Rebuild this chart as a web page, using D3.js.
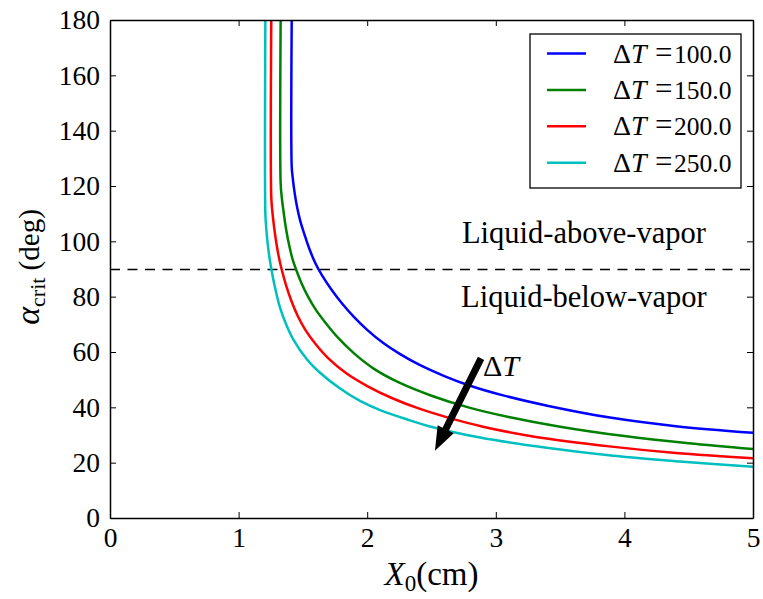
<!DOCTYPE html>
<html lang="en">
	<head>
		<meta charset="utf-8">
		<title>Critical angle vs X0</title>
		<script type="text/javascript" src="https://d3js.org/d3.v7.min.js"></script>
		<style type="text/css">
			body {
				margin: 0;
				background: white;
			}
			text {
				font-family: "Liberation Serif", "DejaVu Serif", serif;
				fill: black;
			}
		</style>
	</head>
	<body>
		<script type="text/javascript">

			//Chart size
			var w = 763;
			var h = 599;
			var margin = { top: 20, right: 10, bottom: 81, left: 110 };
			var pw = w - margin.left - margin.right;
			var ph = h - margin.top - margin.bottom;

			//Data: X0 (cm) and alpha_crit (deg) for each delta T
			var deltaT = [100.0, 150.0, 200.0, 250.0];
			var lineColors = ["#0000ff", "#008000", "#ff0000", "#00bfbf"];

			var x100 = [1.413, 1.413, 1.42, 1.435, 1.455, 1.48, 1.51, 1.55, 1.6, 1.65, 1.72, 1.8, 1.9, 2.0, 2.12, 2.25, 2.4, 2.6, 2.8, 3.05, 3.4, 3.9, 4.4, 5.0];
			var y100 = [180, 127, 123.3, 117.8, 112.3, 107.3, 102.8, 97.3, 91.8, 87.6, 82.7, 77.8, 72.5, 68, 63.4, 59.4, 55.5, 51.3, 47.8, 44.4, 40.6, 36.2, 33.2, 30.8];

			var x150 = [1.327, 1.327, 1.335, 1.35, 1.37, 1.395, 1.42, 1.452, 1.49, 1.54, 1.6, 1.68, 1.78, 1.9, 2.05, 2.25, 2.5, 2.8, 3.1, 3.5, 4.0, 4.5, 5.0];
			var y150 = [180, 121, 116.2, 110.6, 104.2, 98.2, 93.5, 89.2, 84.8, 80, 75.3, 70.3, 64.8, 59.4, 54, 48.9, 44.2, 39.8, 36.5, 33, 29.6, 27, 24.9];

			var x200 = [1.254, 1.254, 1.262, 1.275, 1.29, 1.31, 1.335, 1.37, 1.41, 1.46, 1.52, 1.6, 1.7, 1.84, 2.0, 2.2, 2.4, 2.65, 2.9, 3.3, 3.9, 4.4, 5.0];
			var y200 = [180, 116, 111, 105.5, 100.5, 95, 89.8, 84, 78.5, 73, 67.9, 62.8, 57.6, 52.2, 47.7, 43.2, 39.6, 36, 33, 29.4, 25.8, 23.5, 21.6];

			var x250 = [1.208, 1.208, 1.213, 1.22, 1.23, 1.243, 1.257, 1.28, 1.322, 1.374, 1.426, 1.529, 1.633, 1.789, 1.944, 2.10, 2.333, 2.488, 2.877, 3.396, 3.914, 4.43, 5.0];
			var y250 = [180, 110, 106, 102, 97.6, 93.2, 89.4, 84, 76, 69.5, 64.5, 57.5, 52.5, 46.8, 42.3, 39.0, 35.3, 33.1, 29.1, 25.4, 22.5, 20.4, 18.5];

			//Tick values
			var xTicks = [0, 1, 2, 3, 4, 5];
			var yTicks = [0, 20, 40, 60, 80, 100, 120, 140, 160, 180];

			//Annotations
			var boundaryAngle = 90;
			var arrowFrom = [2.885, 57.7];
			var arrowTo = [2.527, 24.3];

			var seriesX = [x100, x150, x200, x250];
			var seriesY = [y100, y150, y200, y250];
			var series = deltaT.map(function(t, i) {
				return {
					dt: t,
					color: lineColors[i],
					points: seriesX[i].map(function(v, j) { return [v, seriesY[i][j]]; })
				};
			});

			//Scales
			var xScale = d3.scaleLinear().domain([0, 5]).range([0, pw]);
			var yScale = d3.scaleLinear().domain([0, 180]).range([ph, 0]);

			var svg = d3.select("body")
						.append("svg")
						.attr("width", w)
						.attr("height", h);

			var g = svg.append("g")
					   .attr("transform", "translate(" + margin.left + "," + margin.top + ")");

			svg.append("defs").append("clipPath")
			   .attr("id", "plotclip")
			   .append("rect")
			   .attr("width", pw)
			   .attr("height", ph);

			//Dashed boundary at 90 deg
			g.append("line")
			 .attr("x1", 0)
			 .attr("x2", pw)
			 .attr("y1", yScale(boundaryAngle) + 0.5)
			 .attr("y2", yScale(boundaryAngle) + 0.5)
			 .attr("stroke", "black")
			 .attr("stroke-width", 1.4)
			 .attr("stroke-dasharray", "10,7.5");

			//Curves
			var line = d3.line()
						 .x(function(d) { return xScale(d[0]); })
						 .y(function(d) { return yScale(d[1]); })
						 .curve(d3.curveCatmullRom.alpha(0.5));

			g.append("g")
			 .attr("clip-path", "url(#plotclip)")
			 .selectAll("path")
			 .data(series)
			 .enter()
			 .append("path")
			 .attr("d", function(d) { return line(d.points); })
			 .attr("fill", "none")
			 .attr("stroke", function(d) { return d.color; })
			 .attr("stroke-width", 2.5);

			//Region labels
			g.append("text")
			 .attr("x", xScale(3.685))
			 .attr("y", yScale(boundaryAngle) - 26)
			 .attr("text-anchor", "middle")
			 .attr("font-size", "30.5px")
			 .text("Liquid-above-vapor");

			g.append("text")
			 .attr("x", xScale(3.685))
			 .attr("y", yScale(boundaryAngle) + 38)
			 .attr("text-anchor", "middle")
			 .attr("font-size", "30.5px")
			 .text("Liquid-below-vapor");

			//Arrow showing increasing delta T
			var ax0 = xScale(arrowFrom[0]), ay0 = yScale(arrowFrom[1]);
			var ax1 = xScale(arrowTo[0]), ay1 = yScale(arrowTo[1]);
			var len = Math.sqrt((ax1 - ax0) * (ax1 - ax0) + (ay1 - ay0) * (ay1 - ay0));
			var ux = (ax1 - ax0) / len, uy = (ay1 - ay0) / len;
			var nx = -uy, ny = ux;
			var shaft = 3.5, headW = 9, headL = 24;
			var bx = ax1 - ux * headL, by = ay1 - uy * headL;
			var arrowPts = [
				[ax0 + nx * shaft, ay0 + ny * shaft],
				[bx + nx * shaft, by + ny * shaft],
				[bx + nx * headW, by + ny * headW],
				[ax1, ay1],
				[bx - nx * headW, by - ny * headW],
				[bx - nx * shaft, by - ny * shaft],
				[ax0 - nx * shaft, ay0 - ny * shaft]
			];
			g.append("polygon")
			 .attr("points", arrowPts.map(function(p) { return p.join(","); }).join(" "))
			 .attr("fill", "black");

			var dtLabel = g.append("text")
						   .attr("x", ax0 + 2)
						   .attr("y", ay0 + 18)
						   .attr("font-size", "30px");
			dtLabel.append("tspan").text("\u0394");
			dtLabel.append("tspan").attr("font-style", "italic").text("T");

			//Axes with inward ticks on all four sides
			var xAxis = d3.axisBottom(xScale).tickValues(xTicks).tickFormat(d3.format("d"))
						  .tickSizeInner(-6).tickSizeOuter(0).tickPadding(9);
			var yAxis = d3.axisLeft(yScale).tickValues(yTicks).tickFormat(d3.format("d"))
						  .tickSizeInner(-6).tickSizeOuter(0).tickPadding(10);

			var gx = g.append("g")
					  .attr("transform", "translate(0," + ph + ")")
					  .call(xAxis);
			var gy = g.append("g").call(yAxis);

			g.append("g")
			 .call(d3.axisTop(xScale).tickValues(xTicks).tickSizeInner(-6).tickSizeOuter(0).tickFormat(""));
			g.append("g")
			 .attr("transform", "translate(" + pw + ",0)")
			 .call(d3.axisRight(yScale).tickValues(yTicks).tickSizeInner(-6).tickSizeOuter(0).tickFormat(""));

			g.selectAll(".domain").attr("stroke", "black").attr("stroke-width", 1.5);
			g.selectAll(".tick line").attr("stroke", "black").attr("stroke-width", 1);
			[gx, gy].forEach(function(a) {
				a.selectAll("text")
				 .attr("font-family", "'Liberation Serif', 'DejaVu Serif', serif")
				 .attr("font-size", "27.5px")
				 .attr("fill", "black");
			});

			//Axis titles
			var xt = svg.append("text")
						.attr("x", margin.left + pw / 2)
						.attr("y", 585)
						.attr("text-anchor", "middle")
						.attr("font-size", "33px");
			xt.append("tspan").attr("font-style", "italic").text("X");
			xt.append("tspan").attr("font-size", "23px").attr("dy", 6).text("0");
			xt.append("tspan").attr("dy", -6).text("(cm)");

			var yt = svg.append("text")
						.attr("transform", "translate(39,267) rotate(-90)")
						.attr("text-anchor", "middle")
						.attr("font-size", "29px");
			yt.append("tspan").attr("font-style", "italic").attr("font-size", "34px").text("\u03b1");
			yt.append("tspan").attr("font-size", "22px").attr("dy", 6).text("crit");
			yt.append("tspan").attr("dy", -6).text(" (deg)");

			//Legend
			var legX = 530, legY = 34, legW = 211, legH = 154, rowH = 36.4;
			var legend = svg.append("g");
			legend.append("rect")
				  .attr("x", legX)
				  .attr("y", legY)
				  .attr("width", legW)
				  .attr("height", legH)
				  .attr("fill", "white")
				  .attr("stroke", "black")
				  .attr("stroke-width", 1.3);

			var rows = legend.selectAll("g.row")
							 .data(series)
							 .enter()
							 .append("g")
							 .attr("class", "row")
							 .attr("transform", function(d, i) {
							 	return "translate(" + legX + "," + (legY + 19.5 + i * rowH) + ")";
							 });

			rows.append("line")
				.attr("x1", 17)
				.attr("x2", 56)
				.attr("stroke", function(d) { return d.color; })
				.attr("stroke-width", 2.5);

			var lt = rows.append("text")
						 .attr("y", 9);
			lt.append("tspan").attr("x", 83).attr("font-size", "28px").text("\u0394");
			lt.append("tspan").attr("font-size", "28px").attr("font-style", "italic").text("T");
			lt.append("tspan").attr("x", 125).attr("font-size", "31px").text("=");
			lt.append("tspan").attr("x", 144).attr("font-size", "25.5px").text(function(d) { return d.dt.toFixed(1); });

		</script>
	</body>
</html>
